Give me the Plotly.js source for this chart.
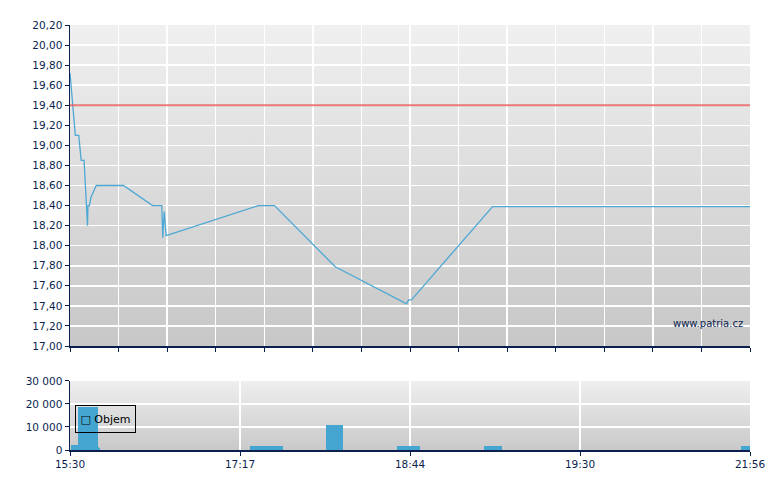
<!DOCTYPE html>
<html>
<head>
<meta charset="utf-8">
<script src="https://cdn.plot.ly/plotly-3.0.1.min.js"></script>
<style>
  html, body { margin: 0; padding: 0; background: #fff; }
  #chart { width: 780px; height: 490px; }
</style>
</head>
<body>
<div id="chart"></div>
<script>
// x is a trade-slot axis (0..14), tick labels are the times shown under it
var timeTicks = [0, 3.5, 7, 10.5, 14];
var timeLabels = ['15:30', '17:17', '18:44', '19:30', '21:56'];

var priceX = [0, 0.11, 0.18, 0.23, 0.29, 0.34, 0.36, 0.37, 0.40, 0.43, 0.54, 1.10, 1.70, 1.89, 1.91, 1.94, 1.98, 3.88, 4.21, 5.46, 6.93, 6.97, 7.03, 8.70, 14];
var price = [19.72, 19.10, 19.10, 18.85, 18.85, 18.40, 18.20, 18.40, 18.40, 18.48, 18.60, 18.60, 18.40, 18.40, 18.08, 18.34, 18.10, 18.40, 18.40, 17.79, 17.42, 17.46, 17.46, 18.39, 18.39];

var prevClose = 19.40;

var volStart = [0.02, 0.16, 0.57, 0.60, 3.71, 5.27, 6.73, 8.52, 13.82];
var volEnd = [0.16, 0.57, 0.60, 0.62, 4.38, 5.63, 7.21, 8.89, 14];
var volume = [2200, 18500, 1500, 700, 1800, 10800, 1800, 1800, 1800];

var navy = '#0b1f4f';
var font = {family: 'DejaVu Sans, Verdana, sans-serif', size: 10.5, color: navy};

var volMid = volStart.map(function(s, i) { return (s + volEnd[i]) / 2; });
var volWidth = volStart.map(function(s, i) { return volEnd[i] - s; });

function gradient(top, bottom) {
  var svg = '<svg xmlns="http://www.w3.org/2000/svg" width="10" height="100" preserveAspectRatio="none">' +
    '<defs><linearGradient id="g" x1="0" y1="0" x2="0" y2="1">' +
    '<stop offset="0" stop-color="' + top + '"/><stop offset="1" stop-color="' + bottom + '"/>' +
    '</linearGradient></defs><rect width="10" height="100" fill="url(#g)"/></svg>';
  return 'data:image/svg+xml;charset=utf-8,' + encodeURIComponent(svg);
}

// price line
var trace1 = {
  x: priceX,
  y: price,
  mode: 'lines',
  line: {color: '#4ea8d4', width: 1.3},
  hoverinfo: 'skip',
  type: 'scatter'
};

// previous close
var trace2 = {
  x: [timeTicks[0], timeTicks[timeTicks.length - 1]],
  y: [prevClose, prevClose],
  mode: 'lines',
  line: {color: 'rgba(232,90,90,0.8)', width: 2},
  hoverinfo: 'skip',
  type: 'scatter'
};

// volume
var trace3 = {
  x: volMid,
  y: volume,
  width: volWidth,
  marker: {color: '#44a5d0', line: {width: 0}},
  xaxis: 'x2',
  yaxis: 'y2',
  name: 'Objem',
  type: 'bar'
};

var layout = {
  width: 780,
  height: 490,
  margin: {l: 70, r: 30, t: 25, b: 40},
  paper_bgcolor: '#fff',
  plot_bgcolor: 'rgba(0,0,0,0)',
  separators: ', ',
  font: font,
  bargap: 0,
  showlegend: false,
  xaxis: {
    range: [0, 14], dtick: 1, tick0: 0, showticklabels: false,
    ticks: 'outside', ticklen: 4, tickcolor: navy,
    showline: true, linecolor: navy, linewidth: 1.5,
    gridcolor: '#fff', gridwidth: 1.5, zeroline: false,
    anchor: 'y', fixedrange: true
  },
  yaxis: {
    domain: [0.2447, 1], range: [17, 20.2], dtick: 0.2, tick0: 17, tickformat: '.2f',
    ticks: 'outside', ticklen: 4, tickcolor: navy,
    showline: true, linecolor: navy, linewidth: 1.5,
    gridcolor: '#fff', gridwidth: 1.5, zeroline: false,
    anchor: 'x', fixedrange: true
  },
  xaxis2: {
    range: [0, 14], tickmode: 'array', tickvals: timeTicks, ticktext: timeLabels,
    ticks: 'outside', ticklen: 4, tickcolor: navy,
    showline: true, linecolor: navy, linewidth: 1.5,
    gridcolor: '#fff', gridwidth: 1.5, zeroline: false,
    anchor: 'y2', fixedrange: true
  },
  yaxis2: {
    domain: [0, 0.1624], range: [0, 30000], dtick: 10000, tickformat: ',d',
    ticks: 'outside', ticklen: 4, tickcolor: navy,
    showline: true, linecolor: navy, linewidth: 1.5,
    gridcolor: '#fff', gridwidth: 1.5, zeroline: false,
    anchor: 'x2', fixedrange: true
  },
  images: [
    {source: gradient('#f0f0f0', '#c7c7c7'), xref: 'x domain', yref: 'y domain',
     x: 0, y: 1, sizex: 1, sizey: 1, xanchor: 'left', yanchor: 'top', sizing: 'stretch', layer: 'below'},
    {source: gradient('#efefef', '#c9c9c9'), xref: 'x2 domain', yref: 'y2 domain',
     x: 0, y: 1, sizex: 1, sizey: 1, xanchor: 'left', yanchor: 'top', sizing: 'stretch', layer: 'below'}
  ],
  annotations: [
    {
      text: 'www.patria.cz', xref: 'x domain', yref: 'y domain',
      x: 0.993, y: 0.07, xanchor: 'right', yanchor: 'middle',
      showarrow: false, font: {family: font.family, size: 10, color: navy}
    },
    {
      // legend box for the volume series
      text: '\u25A1 ' + trace3.name, xref: 'x2 domain', yref: 'y2 domain',
      x: 0.0074, y: 0.65, xanchor: 'left', yanchor: 'top',
      width: 59, height: 26, align: 'center', valign: 'middle',
      bordercolor: '#000', borderwidth: 1, borderpad: 0,
      showarrow: false, font: {family: font.family, size: 11, color: '#000'}
    }
  ]
};

Plotly.newPlot('chart', [trace1, trace2, trace3], layout, {displayModeBar: false, staticPlot: true});
</script>
</body>
</html>
